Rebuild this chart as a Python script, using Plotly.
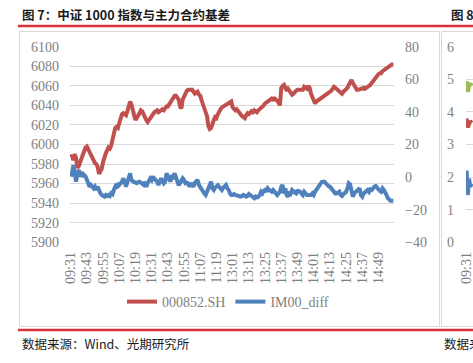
import plotly.graph_objects as go

W, H = 473, 363


def minutes(h, m, n):
    out = []
    for _ in range(n):
        out.append(f"{h:02d}:{m:02d}")
        m += 1
        if m == 60:
            h, m = h + 1, 0
    return out


# trading minutes: morning 09:31-11:30, afternoon 13:01-15:00
times = minutes(9, 31, 120) + minutes(13, 1, 120)

tick_labels = ["09:31", "09:43", "09:55", "10:07", "10:19", "10:31", "10:43",
               "10:55", "11:07", "11:19", "13:01", "13:13", "13:25", "13:37",
               "13:49", "14:01", "14:13", "14:25", "14:37", "14:49"]

# 000852.SH (left axis)
csi1000 = [
    5987, 5989, 5984, 5990, 5986, 5976, 5978, 5982, 5985, 5988,
    5991, 5997, 5998, 5995, 5992, 5990, 5986, 5983, 5981, 5980,
    5977, 5970, 5972, 5975, 5982, 5988, 5991, 5994, 5997, 5996,
    5999, 6005, 6014, 6017, 6018, 6017, 6022, 6028, 6031, 6032,
    6031, 6030, 6034, 6041, 6044, 6041, 6037, 6030, 6025, 6027,
    6030, 6032, 6035, 6034, 6031, 6027, 6025, 6023, 6025, 6028,
    6030, 6031, 6033, 6034, 6035, 6033, 6034, 6035, 6036, 6035,
    6037, 6039, 6039, 6041, 6043, 6046, 6048, 6050, 6050, 6048,
    6046, 6039, 6037, 6046, 6050, 6054, 6055, 6056, 6056, 6057,
    6056, 6054, 6052, 6053, 6054, 6051, 6050, 6045, 6041, 6039,
    6036, 6029, 6019, 6016, 6017, 6022, 6025, 6028, 6027, 6031,
    6035, 6036, 6038, 6039, 6039, 6040, 6041, 6042, 6043, 6044,
    6038, 6037, 6035, 6036, 6034, 6033, 6031, 6029, 6028, 6027,
    6030, 6032, 6031, 6033, 6034, 6033, 6035, 6034, 6033, 6035,
    6036, 6037, 6039, 6040, 6042, 6043, 6044, 6045, 6046, 6047,
    6046, 6047, 6046, 6045, 6043, 6040, 6058, 6060, 6061, 6058,
    6055, 6057, 6055, 6052, 6051, 6052, 6054, 6055, 6056, 6056,
    6057, 6056, 6056, 6059, 6058, 6057, 6060, 6058, 6052, 6048,
    6045, 6042, 6044, 6045, 6046, 6047, 6048, 6049, 6049, 6050,
    6051, 6052, 6054, 6055, 6057, 6059, 6058, 6057, 6055, 6054,
    6053, 6052, 6054, 6055, 6056, 6058, 6061, 6064, 6066, 6063,
    6060, 6057, 6056, 6056, 6057, 6057, 6057, 6058, 6057, 6058,
    6058, 6059, 6061, 6063, 6065, 6066, 6069, 6071, 6072, 6073,
    6073, 6075, 6076, 6077, 6078, 6079, 6081, 6081, 6082, 6082,
]

# IM00_diff (right axis)
im00_diff = [
    0.3, 2.3, 7.4, 3.3, -2.8, 2.3, 4.4, 0.3, 3.3, 0.3,
    1.3, 0.5, -1.8, -3.8, -5.9, -4.8, -5.9, -6.9, -5.9, -7.9,
    -5.9, -8.5, -9.9, -11.0, -11.6, -12.0, -11.0, -11.6, -11.0, -11.6,
    -9.9, -10.5, -7.9, -5.9, -6.9, -3.8, -4.8, -3.8, -2.8, -0.8,
    -3.8, -5.9, -3.0, -0.8, 2.3, -1.8, -2.8, -3.0, -3.5, -3.8,
    -3.0, -2.8, -3.5, -4.0, -4.8, -2.8, -5.9, -3.8, -2.0, -0.8,
    -1.8, 0.3, -1.0, -1.8, -2.8, -4.8, -1.8, -0.8, -2.5, -3.8,
    -2.8, 2.3, 0.3, -1.0, -2.8, 1.3, 0.3, 2.3, 0.3, -2.8,
    -5.0, -3.8, -1.8, -0.8, -1.8, -3.8, -3.5, -3.8, -5.9, -3.8,
    -4.9, -5.9, -3.5, -2.8, -1.8, -4.9, -6.5, -7.9, -9.0, -10.0,
    -11.0, -8.5, -5.9, -3.5, -2.8, -6.9, -7.9, -6.5, -5.9, -4.9,
    -5.9, -6.9, -7.9, -6.5, -5.9, -4.9, -6.9, -7.9, -10.0, -11.0,
    -11.0, -10.4, -11.0, -11.3, -11.6, -12.0, -12.0, -11.6, -11.0, -11.5,
    -12.0, -11.6, -10.4, -11.0, -11.5, -12.0, -13.0, -12.0, -12.5, -12.0,
    -11.0, -9.0, -10.0, -8.5, -7.9, -9.0, -6.9, -7.9, -8.5, -9.0,
    -7.9, -9.0, -10.0, -11.0, -10.0, -9.0, -5.9, -4.9, -10.0, -7.0,
    -11.0, -12.0, -9.0, -10.0, -7.9, -9.0, -9.5, -10.0, -7.9, -9.0,
    -9.0, -10.0, -11.0, -9.0, -10.0, -11.0, -11.0, -11.0, -11.0, -10.0,
    -11.0, -9.0, -7.9, -5.9, -4.9, -3.8, -3.0, -2.8, -2.8, -3.8,
    -4.9, -5.5, -5.9, -6.9, -7.9, -9.0, -10.0, -10.0, -9.5, -9.0,
    -11.0, -11.6, -10.5, -10.0, -9.0, -6.9, -3.8, -4.5, -8.0, -12.0,
    -10.0, -9.0, -8.5, -7.9, -6.9, -11.0, -12.0, -10.0, -9.5, -9.0,
    -7.9, -9.0, -7.5, -7.9, -6.5, -5.9, -5.5, -6.9, -7.9, -8.5,
    -9.0, -6.9, -7.9, -9.0, -11.0, -13.0, -14.0, -14.5, -14.5, -14.5,
]

# neighbouring chart (图 8), only its first minutes are visible
fig8_green = [4.95, 4.62, 4.78, 4.88, 4.8]
fig8_red = [3.8, 3.52, 3.62, 3.72, 3.66]
fig8_blue = [2.2, 1.45, 1.95, 1.7, 1.8]

RED = "#C0504D"
BLUE = "#4F81BD"
GRID = "#D9D9D9"
TXT = "#7F7F7F"
SERIF = "Liberation Serif, Times New Roman, serif"
CJK = "Noto Sans CJK SC"


def px(x):
    return x / W


def py(y):
    return 1 - y / H


fig = go.Figure()
fig.add_trace(go.Scatter(x=times, y=csi1000, name="000852.SH", mode="lines",
                         line=dict(color=RED, width=4), xaxis="x", yaxis="y"))
fig.add_trace(go.Scatter(x=times, y=im00_diff, name="IM00_diff", mode="lines",
                         line=dict(color=BLUE, width=4), xaxis="x", yaxis="y2"))
n8 = len(fig8_green)
for vals, col in ((fig8_green, "#9BBB59"), (fig8_red, RED), (fig8_blue, BLUE)):
    fig.add_trace(go.Scatter(x=times[:n8], y=vals, mode="lines", showlegend=False,
                             line=dict(color=col, width=4), xaxis="x3", yaxis="y3"))

ydom = [py(242.3), py(46.7)]
tickfont = dict(family=SERIF, size=14, color=TXT)

fig.update_layout(
    template="none",
    width=W, height=H, autosize=False,
    margin=dict(l=0, r=0, t=0, b=0, pad=0),
    paper_bgcolor="white", plot_bgcolor="rgba(0,0,0,0)",
    font=dict(family=SERIF, size=14, color=TXT),
    showlegend=True,
    legend=dict(orientation="h", x=px(122), y=py(302), xanchor="left", yanchor="middle",
                font=dict(family=SERIF, size=14, color=TXT), bgcolor="rgba(0,0,0,0)",
                itemwidth=30),
    xaxis=dict(domain=[px(70), px(394)], type="category", range=[-0.5, 239.5],
               tickmode="array", tickvals=tick_labels, ticktext=tick_labels,
               tickangle=-90, showgrid=False, zeroline=False, showline=False,
               ticks="", ticklabelstandoff=6, tickfont=tickfont, anchor="y",
               automargin=False),
    yaxis=dict(domain=ydom, range=[5899.9, 6100.1], tickmode="linear", tick0=5900, dtick=20,
               showgrid=True, gridcolor=GRID, gridwidth=1, zeroline=False, showline=False,
               ticks="", ticklabelstandoff=10, tickfont=tickfont, anchor="x",
               automargin=False),
    yaxis2=dict(range=[-40.02, 80.02], tickmode="linear", tick0=-40, dtick=20,
                overlaying="y", side="right", showgrid=False, zeroline=False,
                showline=False, ticks="", ticklabelstandoff=10, tickfont=tickfont,
                anchor="x", automargin=False),
    xaxis3=dict(domain=[px(466), 1], type="category", range=[-0.5, 5.2],
                tickmode="array", tickvals=[times[0]], ticktext=[times[0]],
                tickangle=-90, showgrid=False, zeroline=False, showline=False,
                ticks="", ticklabelstandoff=6, tickfont=tickfont, anchor="y3",
                automargin=False),
    yaxis3=dict(domain=ydom, range=[-0.003, 6.003], tickmode="linear", tick0=0, dtick=1,
                showgrid=True, gridcolor=GRID, zeroline=False, showline=False,
                ticks="", ticklabelstandoff=11, tickfont=tickfont, anchor="x3",
                automargin=False),
)

shapes = [
    dict(type="line", xref="paper", yref="paper", x0=px(18), x1=px(480), y0=py(26), y1=py(26),
         line=dict(color="#D7303A", width=2.5)),
    dict(type="line", xref="paper", yref="paper", x0=px(18), x1=px(480), y0=py(330), y1=py(330),
         line=dict(color="#D7303A", width=2.5)),
    dict(type="rect", xref="paper", yref="paper", x0=px(19.5), x1=px(439.5),
         y0=py(326.5), y1=py(31.5), line=dict(color=GRID, width=1)),
    dict(type="rect", xref="paper", yref="paper", x0=px(441.5), x1=px(490),
         y0=py(326.5), y1=py(31.5), line=dict(color=GRID, width=1)),
]
fig.update_layout(shapes=shapes)

annos = [
    dict(text="<b>图 7：中证 1000 指数与主力合约基差</b>", x=px(20), y=py(15),
         font=dict(family=CJK, size=12.5, color="#1a1a1a")),
    dict(text="<b>图 8：</b>", x=px(449), y=py(15),
         font=dict(family=CJK, size=12.5, color="#1a1a1a")),
    dict(text="数据来源：Wind、光期研究所", x=px(20), y=py(343),
         font=dict(family=CJK, size=12.5, color="#1a1a1a")),
    dict(text="数据来源：Wind", x=px(442), y=py(343),
         font=dict(family=CJK, size=12.5, color="#1a1a1a")),
]
for a in annos:
    a.update(xref="paper", yref="paper", xanchor="left", yanchor="middle",
             showarrow=False)
fig.update_layout(annotations=annos)

fig.write_html(
    "out.html",
    config={"displayModeBar": False, "staticPlot": True},
    post_script="document.body.style.margin='0';document.body.style.padding='0';"
                "document.body.style.overflow='hidden';",
)
